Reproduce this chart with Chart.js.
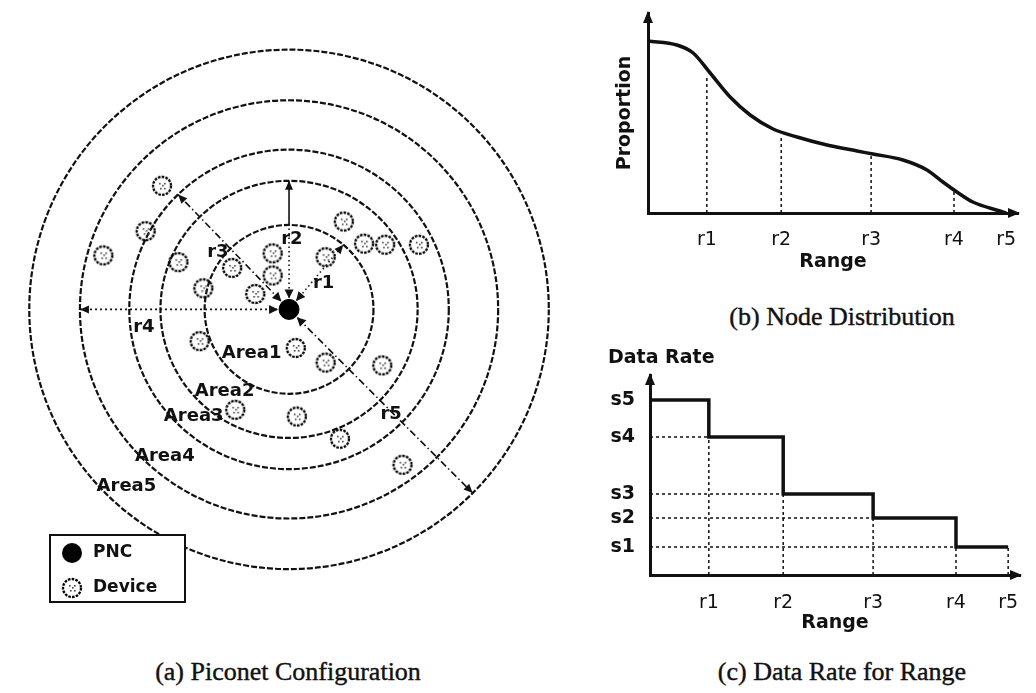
<!DOCTYPE html>
<html>
<head>
<meta charset="utf-8">
<script src="https://cdn.jsdelivr.net/npm/chart.js@4.4.1/dist/chart.umd.min.js"></script>
<style>
  body { margin: 0; background: #fff; width: 1036px; height: 693px; position: relative; overflow: hidden; }
  canvas { position: absolute; }
  .cap { position: absolute; font-family: "Liberation Serif", serif; font-size: 26px; color: #111;
         transform: translate(-50%, -50%); white-space: nowrap; -webkit-text-stroke: 0.4px #111; }
</style>
</head>
<body>
<canvas id="piconet" width="580" height="640" style="left:0;top:0"></canvas>
<canvas id="nodeDist" width="446" height="280" style="left:590px;top:0"></canvas>
<canvas id="dataRate" width="446" height="300" style="left:590px;top:340px"></canvas>
<div class="cap" style="left:288px;top:672px">(a) Piconet Configuration</div>
<div class="cap" style="left:842px;top:317px">(b) Node Distribution</div>
<div class="cap" style="left:842px;top:672px">(c) Data Rate for Range</div>

<script>
// ── データ ────────────────────────────────────────────
// (a) 同心円の半径（r5 = 100）と端末の座標（PNC を原点）
const ringRadii = [32.5, 49.5, 61.5, 80.5, 100];
const ringLabels = ['r1', 'r2', 'r3', 'r4', 'r5'];
const areaLabels = ['Area1', 'Area2', 'Area3', 'Area4', 'Area5'];
const deviceX = [-48.9, -55.2, -71.5, -42.6, -33.0, -21.9, -6.3, -6.3, -13.0, 14.1, 21.1,
                 28.9, 37.0, 50.0, -34.4, 2.6, 14.1, 35.9, -20.7, 3.0, 19.6, 43.7];
const deviceY = [47.4, 30.0, 20.7, 18.1, 8.1, 15.9, 21.5, 13.0, 5.9, 20.0, 33.7,
                 25.2, 24.8, 24.8, -12.2, -14.8, -20.4, -21.5, -38.5, -41.1, -49.6, -59.6];

// (b)(c) 共通のレンジ目盛
const rangeTicks = [15.9, 36.0, 60.3, 82.7, 96.8];
const rangeLabels = ['r1', 'r2', 'r3', 'r4', 'r5'];

// (b) ノード分布
const propX = [0, 7.8, 12.2, 16.8, 22.2, 27.6, 33.8, 40.3, 47.3, 56.5, 60.8, 68.9, 75.4, 79.7, 83.5, 87.8, 95.1, 96.8];
const propY = [86, 84, 80, 70, 58, 49, 42, 38, 34.5, 31, 29.5, 26.5, 21.5, 15.5, 10.5, 5.5, 1, 0];
const dropHeights = [69, 39, 30, 10.5];   // r1〜r4 の破線が曲線に届く高さ

// (c) データレート
const rateLevels = [14, 28.5, 40.5, 69, 87.5];  // s1〜s5
const rateLabels = ['s1', 's2', 's3', 's4', 's5'];
const stepRates = [87.5, 69, 40.5, 28.5, 14, 14]; // 0, r1..r5 の各区間

const INK = '#111';
const SANS = '"DejaVu Sans", Verdana, sans-serif';

// ── 共通ヘルパー ──────────────────────────────────────
function arrowHead(ctx, x, y, ang, len = 10, half = 4.5) {
  ctx.save();
  ctx.translate(x, y);
  ctx.rotate(ang);
  ctx.setLineDash([]);
  ctx.beginPath();
  ctx.moveTo(0, 0);
  ctx.lineTo(-len, -half);
  ctx.lineTo(-len, half);
  ctx.closePath();
  ctx.fillStyle = INK;
  ctx.fill();
  ctx.restore();
}

function makeDeviceIcon() {
  const c = document.createElement('canvas');
  c.width = 24; c.height = 24;
  const g = c.getContext('2d');
  g.strokeStyle = '#000';
  g.lineWidth = 2.3;
  g.setLineDash([2.6, 1.2]);
  g.beginPath(); g.arc(12, 12, 9, 0, Math.PI * 2); g.stroke();
  g.fillStyle = '#444';
  [[9, 9], [14, 9], [10, 14], [14, 14], [12, 11]].forEach(([x, y]) => g.fillRect(x, y, 1.6, 1.6));
  return c;
}
const deviceIcon = makeDeviceIcon();

// ── (a) ピコネット構成 ────────────────────────────────
const piconetPlugin = {
  id: 'piconet',
  beforeDatasetsDraw(chart) {
    const { ctx, scales: { x, y } } = chart;
    const cx = x.getPixelForValue(0), cy = y.getPixelForValue(0);
    const k = x.getPixelForValue(1) - cx;
    ctx.save();
    ctx.strokeStyle = INK;

    // 同心円
    ctx.lineWidth = 2.2;
    ctx.setLineDash([6, 2]);
    ringRadii.forEach(r => {
      ctx.beginPath(); ctx.arc(cx, cy, r * k, 0, Math.PI * 2); ctx.stroke();
    });

    // 半径の矢印 [角度, 線種]
    const rays = [
      [50, [1.5, 3]],
      [90, [1.5, 3]],
      [134, [7, 3, 1.5, 3]],
      [180, [2, 3]],
      [-45, [7, 3, 1.5, 3]],
    ];
    ctx.lineWidth = 1.6;
    rays.forEach(([deg, dash], i) => {
      const a = deg * Math.PI / 180;
      const dx = Math.cos(a), dy = -Math.sin(a);
      const R = ringRadii[i] * k;
      const s = 12;
      ctx.setLineDash(dash);
      if (i === 1) {
        const mid = ringRadii[0] * k;
        ctx.beginPath(); ctx.moveTo(cx + dx * s, cy + dy * s); ctx.lineTo(cx + dx * mid, cy + dy * mid); ctx.stroke();
        ctx.setLineDash([]);
        ctx.beginPath(); ctx.moveTo(cx + dx * mid, cy + dy * mid); ctx.lineTo(cx + dx * R, cy + dy * R); ctx.stroke();
      } else {
        ctx.beginPath(); ctx.moveTo(cx + dx * s, cy + dy * s); ctx.lineTo(cx + dx * R, cy + dy * R); ctx.stroke();
      }
      const ang = Math.atan2(dy, dx);
      arrowHead(ctx, cx + dx * R, cy + dy * R, ang, 9, 4);
      arrowHead(ctx, cx + dx * (s - 1), cy + dy * (s - 1), ang + Math.PI, 9, 4.5);
    });

    // ラベル
    ctx.setLineDash([]);
    ctx.fillStyle = INK;
    ctx.font = 'bold 18px ' + SANS;
    ctx.textAlign = 'center';
    ctx.textBaseline = 'middle';
    const ringPos = [[13.3, 10.0], [1.1, 27], [-27.4, 21.9], [-55.9, -6.7], [39.3, -40.4]];
    ringPos.forEach(([px, py], i) => ctx.fillText(ringLabels[i], x.getPixelForValue(px), y.getPixelForValue(py)));
    const areaPos = [[-14.4, -16.7], [-24.8, -31.5], [-36.7, -41.1], [-47.8, -56.3], [-62.6, -67.8]];
    areaPos.forEach(([px, py], i) => ctx.fillText(areaLabels[i], x.getPixelForValue(px), y.getPixelForValue(py)));
    ctx.restore();
  },
  afterDatasetsDraw(chart) {
    // 凡例ボックス
    const { ctx } = chart;
    ctx.save();
    ctx.fillStyle = '#fff';
    ctx.strokeStyle = INK;
    ctx.lineWidth = 2;
    ctx.fillRect(50, 535, 135, 67);
    ctx.strokeRect(50, 535, 135, 67);
    ctx.fillStyle = '#000';
    ctx.beginPath(); ctx.arc(72, 553, 10, 0, Math.PI * 2); ctx.fill();
    ctx.drawImage(deviceIcon, 60, 576);
    ctx.fillStyle = INK;
    ctx.font = 'bold 17px ' + SANS;
    ctx.textBaseline = 'middle';
    ctx.fillText('PNC', 93, 553);
    ctx.fillText('Device', 93, 588);
    ctx.restore();
  }
};

new Chart(document.getElementById('piconet'), {
  type: 'scatter',
  data: {
    datasets: [
      {
        label: 'Device',
        data: deviceX.map((v, i) => ({ x: v, y: deviceY[i] })),
        pointStyle: deviceIcon,
        pointRadius: 10,
      },
      {
        label: 'PNC',
        data: [{ x: 0, y: 0 }],
        pointRadius: 10,
        backgroundColor: '#000',
        borderColor: '#000',
      }
    ]
  },
  options: {
    responsive: false,
    animation: false,
    layout: { padding: 0 },
    plugins: { legend: { display: false }, tooltip: { enabled: false } },
    scales: {
      x: { type: 'linear', display: false, min: -107.04, max: 107.78 },
      y: { type: 'linear', display: false, min: -122.59, max: 114.44 },
    }
  },
  plugins: [piconetPlugin]
});

// ── (b)(c) 共通 ───────────────────────────────────────
const axisArrows = {
  id: 'axisArrows',
  afterDraw(chart) {
    const { ctx, chartArea: a } = chart;
    arrowHead(ctx, a.left, a.top - 2, -Math.PI / 2, 12, 5);
    arrowHead(ctx, a.right + 2, a.bottom, 0, 12, 5);
  }
};

function rangeAxis(height, tickPad, titlePad) {
  return {
    type: 'linear',
    min: 0, max: 100,
    grid: { display: false, drawTicks: false },
    border: { display: true, width: 3, color: INK },
    afterBuildTicks: s => { s.ticks = rangeTicks.map(v => ({ value: v })); },
    afterFit: s => { s.height = height; },
    ticks: {
      padding: tickPad,
      color: INK,
      font: { family: SANS, size: 19 },
      callback: (v, i) => rangeLabels[i],
    },
    title: {
      display: true, text: 'Range', color: INK,
      font: { family: SANS, size: 19, weight: 'bold' },
      padding: { top: 0, bottom: titlePad },
    }
  };
}

function guide(points) {
  return {
    data: points,
    borderColor: INK,
    borderWidth: 1.5,
    borderDash: [3, 3],
    pointRadius: 0,
    tension: 0,
    clip: false,
  };
}

// ── (b) ノード分布 ────────────────────────────────────
new Chart(document.getElementById('nodeDist'), {
  type: 'line',
  data: {
    datasets: [
      ...dropHeights.map((h, i) => guide([{ x: rangeTicks[i], y: 0 }, { x: rangeTicks[i], y: h }])),
      {
        label: 'Proportion',
        data: propX.map((v, i) => ({ x: v, y: propY[i] })),
        borderColor: INK,
        borderWidth: 3.5,
        pointRadius: 0,
        cubicInterpolationMode: 'monotone',
        clip: false,
      }
    ]
  },
  options: {
    responsive: false,
    animation: false,
    layout: { padding: { top: 13, right: 18, left: 0, bottom: 0 } },
    plugins: { legend: { display: false }, tooltip: { enabled: false } },
    scales: {
      x: rangeAxis(67, 15.6, 6.6),
      y: {
        min: 0, max: 100,
        grid: { display: false, drawTicks: false },
        border: { display: true, width: 3, color: INK },
        ticks: { display: false },
        afterFit: s => { s.width = 58; },
        title: {
          display: true, text: 'Proportion', color: INK,
          font: { family: SANS, size: 19, weight: 'bold' },
          padding: { top: 23.6, bottom: 0 },
        }
      }
    }
  },
  plugins: [axisArrows]
});

// ── (c) 距離別データレート ────────────────────────────
const stepX = [0, ...rangeTicks];
const rateGuides = [];
rangeTicks.forEach((r, i) => {
  const lvl = stepRates[i + 1];
  if (i < 4) rateGuides.push(guide([{ x: 0, y: lvl }, { x: r, y: lvl }]));
  rateGuides.push(guide([{ x: r, y: 0 }, { x: r, y: lvl }]));
});

new Chart(document.getElementById('dataRate'), {
  type: 'line',
  data: {
    datasets: [
      ...rateGuides,
      {
        label: 'Data Rate',
        data: stepX.map((v, i) => ({ x: v, y: stepRates[i] })),
        stepped: true,
        borderColor: INK,
        borderWidth: 3.5,
        pointRadius: 0,
        clip: false,
      }
    ]
  },
  options: {
    responsive: false,
    animation: false,
    layout: { padding: { top: 0, right: 16, left: 18, bottom: 0 } },
    plugins: {
      legend: { display: false },
      tooltip: { enabled: false },
      title: {
        display: true, text: 'Data Rate', align: 'start', color: INK,
        font: { family: SANS, size: 19, weight: 'bold' },
        padding: { top: 6.6, bottom: 5.6 },
      }
    },
    scales: {
      x: rangeAxis(65, 16.6, 5.6),
      y: {
        min: 0, max: 100,
        grid: { display: false, drawTicks: false },
        border: { display: true, width: 3, color: INK },
        afterBuildTicks: s => { s.ticks = rateLevels.map(v => ({ value: v })); },
        afterFit: s => { s.width = 42; },
        ticks: {
          padding: 15,
          color: INK,
          font: { family: SANS, size: 19, weight: 'bold' },
          callback: (v, i) => rateLabels[i],
        }
      }
    }
  },
  plugins: [axisArrows]
});
</script>
</body>
</html>
